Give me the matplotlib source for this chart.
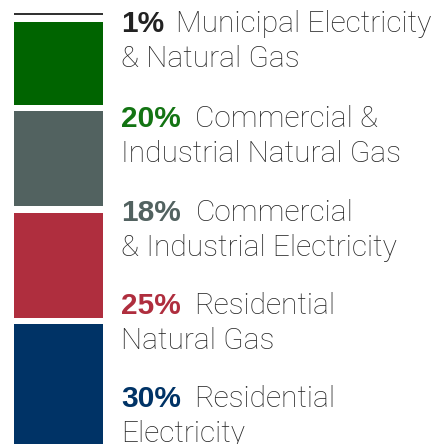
import matplotlib
matplotlib.use("Agg")
import matplotlib.pyplot as plt

# ---- data ----
percents = ["1%", "20%", "18%", "25%", "30%"]
label_line1 = ["Municipal Electricity", "Commercial &", "Commercial", "Residential", "Residential"]
label_line2 = ["& Natural Gas", "Industrial Natural Gas", "& Industrial Electricity", "Natural Gas", "Electricity"]
# segment heights (top to bottom)
segment_heights = [0.62, 19.7, 22.7, 25.0, 30.0]
segment_colors = ["#333333", "#006400", "#526260", "#AF2E3E", "#003366"]
percent_colors = ["#222222", "#137413", "#526260", "#AF2E3E", "#003366"]

W, H, DPI = 440, 444, 100
fig = plt.figure(figsize=(W / DPI, H / DPI), dpi=DPI)
ax = fig.add_axes([0, 0, 1, 1])
ax.set_xlim(0, W)
px_per_unit = 4.2
ax.set_ylim(H / px_per_unit, 0)
ax.axis("off")

family = "Roboto"
bold_family = "Liberation Sans"

gap = 1.55
start = 3.02
bottom = start
for h, c in zip(segment_heights, segment_colors):
    ax.bar(58.5, h, width=89, bottom=bottom, color=c, edgecolor="none", linewidth=0, align="center")
    bottom += h + gap

fs = 21.5
baselines = [32, 126.5, 220.5, 313.5, 406.5]
rest_x = [176, 195, 196, 194, 194]
line_gap = 35
x0 = 121
txt_color = "#262626"
for i in range(5):
    yb = baselines[i]
    fig.text(x0 / W, 1 - yb / H, percents[i], fontsize=fs, fontweight="bold",
             color=percent_colors[i], family=bold_family, va="baseline", ha="left")
    fig.text(rest_x[i] / W, 1 - yb / H, label_line1[i], fontsize=fs,
             color=txt_color, family=family, va="baseline", ha="left", fontweight="light")
    fig.text(x0 / W, 1 - (yb + line_gap) / H, label_line2[i], fontsize=fs,
             color=txt_color, family=family, va="baseline", ha="left", fontweight="light")

fig.savefig("out.png", dpi=DPI)
